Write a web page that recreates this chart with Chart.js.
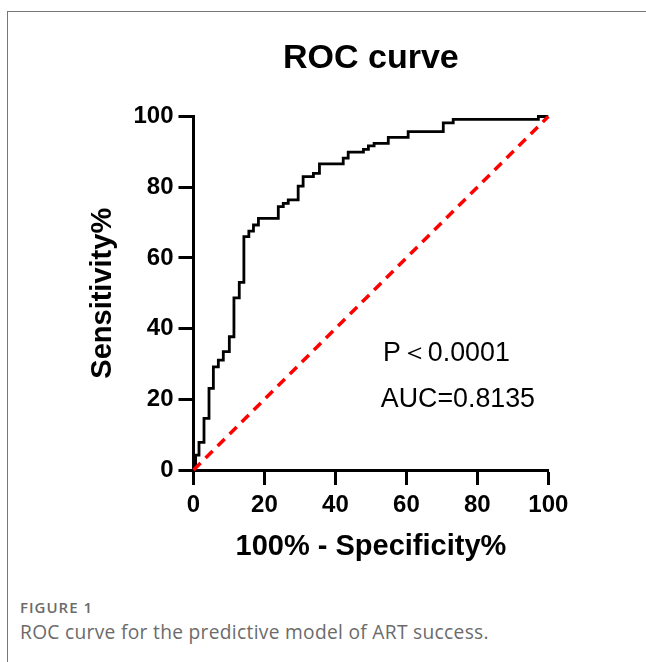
<!DOCTYPE html>
<html>
<head>
<meta charset="utf-8">
<script src="https://cdn.jsdelivr.net/npm/chart.js@4.4.1/dist/chart.umd.min.js"></script>
<style>
  html, body { margin: 0; padding: 0; background: #fff; }
  body { width: 646px; height: 662px; position: relative; overflow: hidden; }
  #frame { position: absolute; left: 7px; top: 11px; right: -2px; bottom: -2px;
           border-left: 1px solid #777; border-top: 1px solid #777; }
  #wrap { position: absolute; left: 0; top: 0; width: 646px; height: 570px; }
  #fig { position: absolute; left: 20px; top: 597px; font-family: "Open Sans", Lato, sans-serif;
         font-size: 15px; font-weight: 600; color: #6b6b6b; letter-spacing: 1px; }
  #cap { position: absolute; left: 20px; top: 618px; font-family: "Open Sans", Lato, sans-serif;
         font-size: 19.2px; color: #6b6b6b; letter-spacing: 0.3px; }
</style>
</head>
<body>
<div id="frame"></div>
<div id="wrap"><canvas id="c" width="646" height="570"></canvas></div>
<div id="fig">FIGURE 1</div>
<div id="cap">ROC curve for the predictive model of ART success.</div>
<script>
// 100% - Specificity% (false positive rate) at each step of the ROC curve
const fpr = [0, 0.6, 1.55, 2.96, 4.37, 5.6, 7.0, 8.4, 10.1, 11.4, 12.9, 14.2, 15.6, 16.9, 18.3,
             23.9, 25.3, 26.7, 29.5, 30.9, 33.8, 35.5, 42.2, 43.6, 47.9, 49.3, 50.9, 54.9,
             60.5, 70.4, 73.2, 97.2, 100];
// Sensitivity% at each step
const tpr = [0, 4.2, 7.8, 14.6, 23.1, 29.2, 31.1, 33.5, 37.7, 48.7, 53.1, 66.0, 67.6, 69.3, 71.2,
             74.5, 75.4, 76.4, 80.3, 83.0, 83.9, 86.6, 88.2, 89.9, 90.7, 91.7, 92.4, 94.1,
             95.7, 98.2, 99.2, 100, 100];
// Reference (chance) line
const refX = [0, 100];
const refY = [0, 100];
// Tick labels
const tickValues = [0, 20, 40, 60, 80, 100];
// Annotation texts and their data positions (x, y of left/middle)
const noteTexts = ["P\uFF1C0.0001", "AUC=0.8135"];
const noteX = [53.4, 52.8];
const noteY = [32.8, 19.8];

const FONT = '"Liberation Sans", Arial, Helvetica, sans-serif';

const notesPlugin = {
  id: 'notes',
  afterDatasetsDraw(chart) {
    const {ctx, scales: {x, y}} = chart;
    ctx.save();
    ctx.fillStyle = '#000';
    ctx.font = '26.8px ' + FONT;
    ctx.textAlign = 'left';
    ctx.textBaseline = 'middle';
    noteTexts.forEach((t, i) => {
      ctx.fillText(t, x.getPixelForValue(noteX[i]), y.getPixelForValue(noteY[i]));
    });
    ctx.restore();
  }
};

new Chart(document.getElementById('c'), {
  type: 'line',
  data: {
    datasets: [
      {
        label: 'Reference',
        data: refX.map((v, i) => ({x: v, y: refY[i]})),
        borderColor: '#ff0000',
        borderWidth: 3.5,
        borderDash: [10, 7],
        pointRadius: 0,
        fill: false,
        clip: false
      },
      {
        label: 'ROC',
        data: fpr.map((v, i) => ({x: v, y: tpr[i]})),
        borderColor: '#000',
        borderWidth: 2.8,
        stepped: 'before',
        pointRadius: 0,
        fill: false,
        clip: false
      }
    ]
  },
  options: {
    responsive: false,
    animation: false,
    devicePixelRatio: 1,
    layout: { padding: { left: 0, right: 97.7, top: 0, bottom: 0 } },
    plugins: {
      legend: { display: false },
      tooltip: { enabled: false },
      title: {
        display: true,
        fullSize: false,
        text: 'ROC curve',
        color: '#000',
        font: { family: FONT, size: 34, weight: 'bold', lineHeight: 1.2 },
        padding: { top: 38, bottom: 37.7 }
      }
    },
    scales: {
      x: {
        type: 'linear',
        min: 0, max: 100,
        afterBuildTicks(scale) { scale.ticks = tickValues.map(v => ({value: v})); },
        afterFit(scale) { scale.height = 100; },
        border: { display: true, color: '#000', width: 3 },
        grid: { drawOnChartArea: false, drawTicks: true, tickLength: 15, tickWidth: 3, tickColor: '#000' },
        ticks: { color: '#000', font: { family: FONT, size: 24, weight: 'bold' }, padding: 6, maxRotation: 0 },
        title: {
          display: true, text: '100% - Specificity%', color: '#000',
          font: { family: FONT, size: 29, weight: 'bold', lineHeight: 1.2 },
          padding: { top: 0, bottom: 5.6 }
        }
      },
      y: {
        type: 'linear',
        min: 0, max: 100,
        afterBuildTicks(scale) { scale.ticks = tickValues.map(v => ({value: v})); },
        afterFit(scale) { scale.width = 193.5; },
        border: { display: true, color: '#000', width: 3 },
        grid: { drawOnChartArea: false, drawTicks: true, tickLength: 15, tickWidth: 3, tickColor: '#000' },
        ticks: { color: '#000', font: { family: FONT, size: 24, weight: 'bold' }, padding: 5 },
        title: {
          display: true, text: 'Sensitivity%', color: '#000',
          font: { family: FONT, size: 29, weight: 'bold', lineHeight: 1.2 },
          padding: { top: 86, bottom: 0 }
        }
      }
    }
  },
  plugins: [notesPlugin]
});
</script>
</body>
</html>
